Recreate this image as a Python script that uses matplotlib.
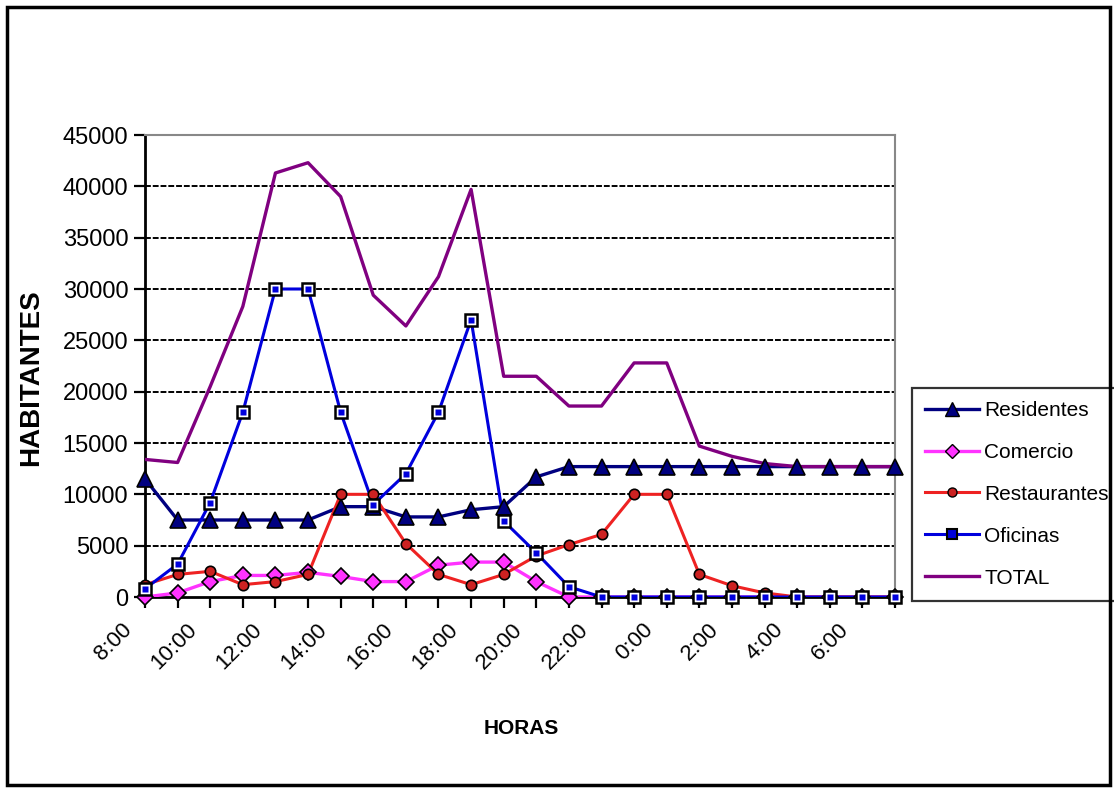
import matplotlib
matplotlib.use('Agg')
import matplotlib.pyplot as plt
import matplotlib.transforms as mtransforms
from matplotlib.patches import Rectangle
from matplotlib.lines import Line2D

plt.rcParams['font.family'] = ['Liberation Sans', 'DejaVu Sans']

hours = ['8:00', '9:00', '10:00', '11:00', '12:00', '13:00', '14:00', '15:00',
         '16:00', '17:00', '18:00', '19:00', '20:00', '21:00', '22:00', '23:00',
         '0:00', '1:00', '2:00', '3:00', '4:00', '5:00', '6:00', '7:00']
shown_labels = ['8:00', '10:00', '12:00', '14:00', '16:00', '18:00', '20:00',
                '22:00', '0:00', '2:00', '4:00', '6:00']

residentes = [11500, 7500, 7500, 7500, 7500, 7500, 8800, 8800, 7800, 7800, 8500, 8800,
              11700, 12700, 12700, 12700, 12700, 12700, 12700, 12700, 12700, 12700, 12700, 12700]
comercio = [0, 400, 1500, 2100, 2100, 2400, 2000, 1500, 1500, 3100, 3400, 3400,
            1500, 0, 0, 0, 0, 0, 0, 0, 0, 0, 0, 0]
restaurantes = [1200, 2200, 2500, 1200, 1500, 2200, 10000, 10000, 5200, 2200, 1200, 2200,
                4000, 5100, 6100, 10000, 10000, 2200, 1100, 400, 0, 0, 0, 0]
oficinas = [800, 3200, 9200, 18000, 30000, 30000, 18000, 9000, 12000, 18000, 27000, 7400,
            4300, 1000, 0, 0, 0, 0, 0, 0, 0, 0, 0, 0]
total = [13400, 13100, 20500, 28300, 41300, 42300, 39000, 29400, 26400, 31200, 39700, 21500,
         21500, 18600, 18600, 22800, 22800, 14700, 13700, 13000, 12700, 12700, 12700, 12700]

yticks = [0, 5000, 10000, 15000, 20000, 25000, 30000, 35000, 40000, 45000]

W, H = 1114, 789
fig = plt.figure(figsize=(W / 100, H / 100), dpi=100)
ax = fig.add_axes([145 / W, 1 - 597 / H, (895 - 145) / W, (597 - 135) / H])

x = list(range(len(hours)))

# grid
for v in yticks[1:]:
    ax.axhline(v, color='black', lw=1.4, ls=(0, (3, 1)), zorder=1)

# lines
ax.plot(x, residentes, color='#000080', lw=2.4, zorder=3)
ax.plot(x, comercio, color='#ff33ff', lw=2.4, zorder=3)
ax.plot(x, restaurantes, color='#ee2222', lw=2.2, zorder=3)
ax.plot(x, oficinas, color='#0000dd', lw=2.2, zorder=3)
ax.plot(x, total, color='#800080', lw=2.4, zorder=3)

# markers
ax.plot(x, residentes, ls='none', marker='^', ms=11, mfc='#000080', mec='black', mew=1.2,
        zorder=5, clip_on=False)
ax.plot(x, comercio, ls='none', marker='D', ms=8, mfc='#ff33ff', mec='black', mew=1.2,
        zorder=6, clip_on=False)
ax.plot(x, restaurantes, ls='none', marker='o', ms=7.5, mfc='#cc2222', mec='black', mew=1.2,
        zorder=7, clip_on=False)
ax.plot(x, oficinas, ls='none', marker='s', ms=8.5, mfc='white', mec='black', mew=1.8,
        zorder=8, clip_on=False)
ax.plot(x, oficinas, ls='none', marker='s', ms=4, mfc='#0000dd', mec='none',
        zorder=9, clip_on=False)

# legend
handles = [
    Line2D([], [], color='#000080', lw=2.4, marker='^', ms=10, mfc='#000080', mec='black'),
    Line2D([], [], color='#ff33ff', lw=2.4, marker='D', ms=7, mfc='#ff33ff', mec='black'),
    Line2D([], [], color='#ee2222', lw=2.2, marker='o', ms=6.5, mfc='#cc2222', mec='black'),
    Line2D([], [], color='#0000dd', lw=2.2, marker='s', ms=7, mfc='#0000dd', mec='black', mew=1.5),
    Line2D([], [], color='#800080', lw=2.4),
]
labels = ['Residentes', 'Comercio', 'Restaurantes', 'Oficinas', 'TOTAL']
leg = fig.legend(handles, labels, loc='upper left', bbox_to_anchor=(912 / W, 1 - 388 / H),
                 fontsize=15, frameon=True, fancybox=False, edgecolor='black',
                 handlelength=2.6, handletextpad=0.25, labelspacing=1.1, borderpad=0.62,
                 borderaxespad=0)
leg.get_frame().set_linewidth(1.6)

ax.set_xlim(0, len(hours) - 1)
ax.set_ylim(0, 45000)
ax.set_yticks(yticks)
ax.set_yticklabels([str(v) for v in yticks], fontsize=17)
ax.set_xticks(x)
ax.set_xticklabels([h if h in shown_labels else '' for h in hours], rotation=45,
                   ha='right', va='top', rotation_mode='anchor', fontsize=16)
ax.tick_params(axis='both', direction='out', length=8, width=1.6, color='black')
ax.tick_params(axis='y', pad=4)
ax.tick_params(axis='x', pad=8)
shift = mtransforms.ScaledTranslation(-24 / 100, 0, fig.dpi_scale_trans)
for lab in ax.get_xticklabels():
    lab.set_transform(lab.get_transform() + shift)

for s in ['left', 'bottom']:
    ax.spines[s].set_color('black')
    ax.spines[s].set_linewidth(2)
for s in ['top', 'right']:
    ax.spines[s].set_color('#888888')
    ax.spines[s].set_linewidth(1.5)

fig.text(521 / W, 1 - 729 / H, 'HORAS', fontsize=15, fontweight='bold', ha='center', va='center')
fig.text(31 / W, 1 - 378 / H, 'HABITANTES', fontsize=20, fontweight='bold', rotation=90,
         ha='center', va='center')

fig.patches.append(Rectangle((7 / W, 4 / H), (1110 - 7) / W, (782 - 4) / H,
                             transform=fig.transFigure, fill=False, edgecolor='black',
                             lw=2.5, zorder=10))

fig.savefig('out.png', dpi=100)
